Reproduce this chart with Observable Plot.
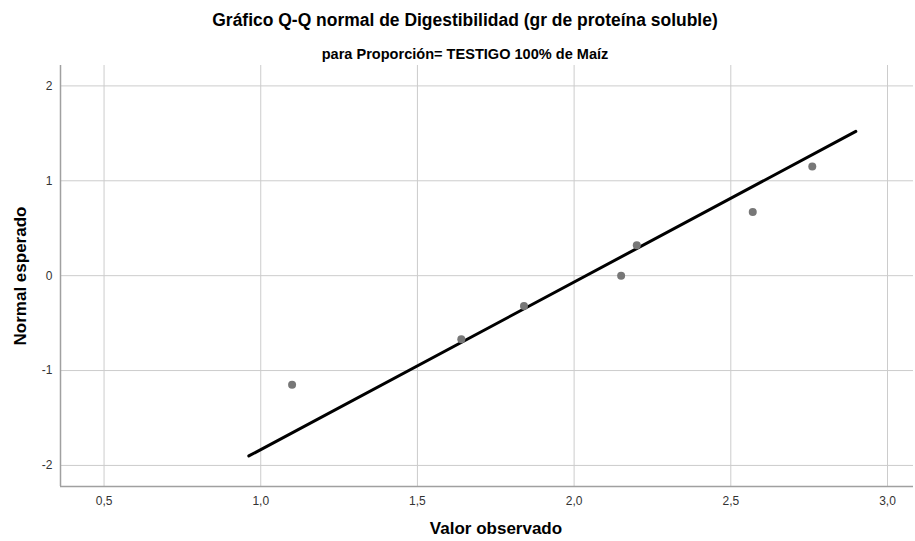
<!DOCTYPE html>
<html>
<head>
<meta charset="utf-8">
<script src="https://cdn.jsdelivr.net/npm/d3@7"></script>
<script src="https://cdn.jsdelivr.net/npm/@observablehq/plot@0.6"></script>
<style>
  body { margin: 0; background: #fff; }
  #wrap { position: relative; width: 915px; height: 541px; overflow: hidden; font-family: "Liberation Sans", Arial, sans-serif; }
  .title { position: absolute; left: 465px; white-space: nowrap; color: #000; font-family: "Liberation Sans", Arial, sans-serif; font-weight: bold; transform-origin: center; }
  #t1 { top: 10px; font-size: 18px; transform: translateX(-50%) scaleX(0.97); }
  #t2 { top: 45px; font-size: 15px; transform: translateX(-50%) scaleX(0.97); }
  #plot { position: absolute; left: 0; top: 65px; }
  #ylab { position: absolute; left: 21px; top: 276px; transform: translate(-50%, -50%) rotate(-90deg); font-weight: bold; font-size: 17px; white-space: nowrap; color: #000; }
  #xlab { position: absolute; left: 496px; top: 519px; transform: translateX(-50%); font-weight: bold; font-size: 17px; white-space: nowrap; color: #000; }
</style>
</head>
<body>
<div id="wrap">
  <div class="title" id="t1">Gráfico Q-Q normal de Digestibilidad (gr de proteína soluble)</div>
  <div class="title" id="t2">para Proporción= TESTIGO 100% de Maíz</div>
  <div id="plot"></div>
  <div id="ylab">Normal esperado</div>
  <div id="xlab">Valor observado</div>
</div>
<script>
// Observed values (x) and expected normal quantiles (y)
const observed = [1.10, 1.64, 1.84, 2.15, 2.20, 2.57, 2.76];
const expected = [-1.15, -0.67, -0.32, 0.00, 0.32, 0.67, 1.15];
// Reference line endpoints
const lineX = [0.962, 2.899];
const lineY = [-1.90, 1.52];
// Tick values
const xTicks = [0.5, 1.0, 1.5, 2.0, 2.5, 3.0];
const yTicks = [-2, -1, 0, 1, 2];

const points = observed.map((x, i) => ({x, y: expected[i]}));
const refLine = lineX.map((x, i) => ({x, y: lineY[i]}));

const xDom = [0.361, 3.083];
const yDom = [-2.222, 2.215];

const chart = Plot.plot({
  width: 915,
  height: 476,
  marginLeft: 60,
  marginRight: 2,
  marginTop: 0,
  marginBottom: 55,
  style: { background: "transparent", overflow: "visible" },
  x: { domain: xDom },
  y: { domain: yDom },
  marks: [
    Plot.gridX(xTicks, { stroke: "#cccccc", strokeOpacity: 1, strokeWidth: 1 }),
    Plot.gridY(yTicks, { stroke: "#cccccc", strokeOpacity: 1, strokeWidth: 1 }),
    Plot.ruleX([xDom[0]], { stroke: "#a0a0a0", strokeWidth: 1.5 }),
    Plot.ruleY([yDom[0]], { stroke: "#a0a0a0", strokeWidth: 1.5 }),
    Plot.axisX(xTicks, {
      tickSize: 0, tickPadding: 10, label: null,
      tickFormat: d => d.toFixed(1).replace(".", ","),
      fontSize: 12, fill: "#333",
      fontFamily: "'Liberation Sans', Arial, sans-serif"
    }),
    Plot.axisY(yTicks, {
      tickSize: 0, tickPadding: 8, label: null,
      tickFormat: d => String(d),
      fontSize: 12, fill: "#333",
      fontFamily: "'Liberation Sans', Arial, sans-serif"
    }),
    Plot.line(refLine, { x: "x", y: "y", stroke: "#000", strokeWidth: 3 }),
    Plot.dot(points, { x: "x", y: "y", r: 4, fill: "#777777", stroke: "none" })
  ]
});
document.getElementById("plot").appendChild(chart);
</script>
</body>
</html>
